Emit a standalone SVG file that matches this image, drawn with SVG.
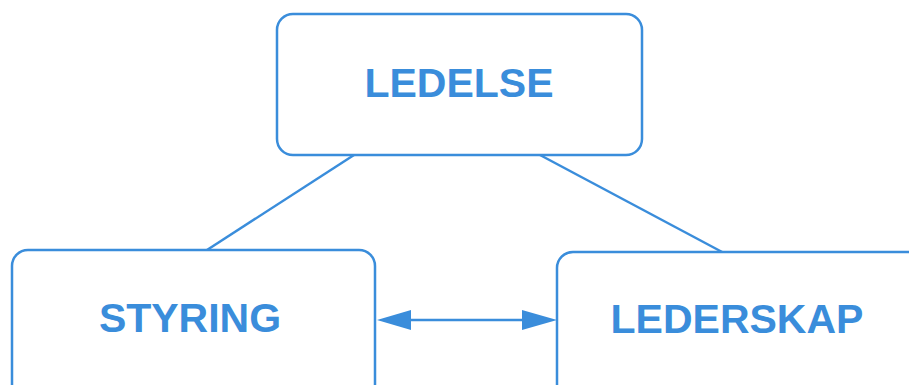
<svg xmlns="http://www.w3.org/2000/svg" width="909" height="385" viewBox="0 0 909 385">
<style>
.box{fill:#ffffff;stroke:#3a8ddb;stroke-width:2.5}
.lbl{font-family:"Liberation Sans",Arial,sans-serif;font-weight:bold;font-size:41px;fill:#3a8ddb;text-anchor:middle}
.con{stroke:#3a8ddb;stroke-width:2.5;fill:none}
.head{fill:#3a8ddb}
</style>
<rect width="909" height="385" fill="#ffffff"/>
<g id="connectors">
<line class="con" x1="207" y1="250" x2="354" y2="155"/>
<line class="con" x1="540" y1="155" x2="724" y2="253"/>
<line class="con" x1="400" y1="320" x2="530" y2="320"/>
<polygon class="head" points="377,320 411,310 411,330"/>
<polygon class="head" points="557,320 522,310 522,330"/>
</g>
<g id="ledelse">
<rect class="box" x="277" y="14" width="365" height="141" rx="16"/>
<text class="lbl" x="459" y="97">LEDELSE</text>
</g>
<g id="styring">
<rect class="box" x="12" y="250" width="363" height="150" rx="16"/>
<text class="lbl" x="190" y="332">STYRING</text>
</g>
<g id="lederskap">
<rect class="box" x="557" y="252" width="370" height="150" rx="16"/>
<text class="lbl" x="737" y="333">LEDERSKAP</text>
</g>
</svg>
